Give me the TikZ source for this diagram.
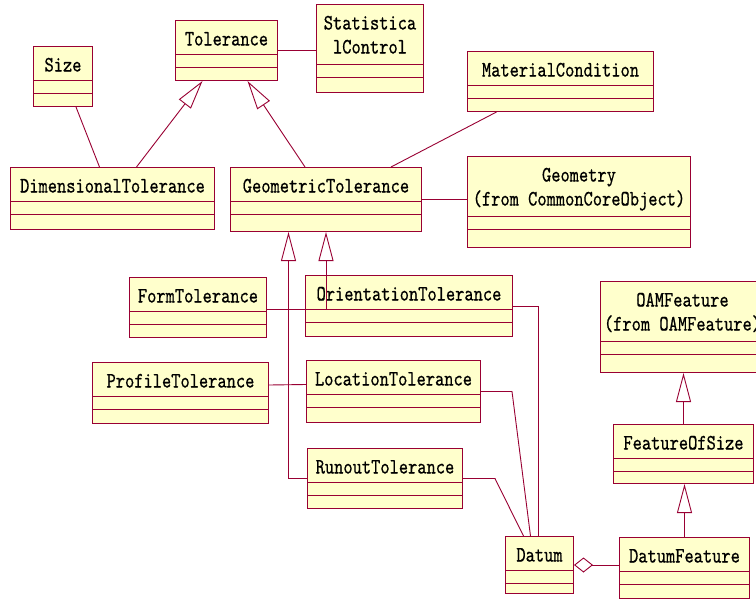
\documentclass[tikz,border=0pt]{standalone}
\usepackage{fontspec}
\usepackage{tikz}
\usetikzlibrary{arrows.meta}
\newfontfamily\umlfont{lmmono10-regular.otf}[FakeStretch=0.8, FakeBold=0.6]
\definecolor{roseline}{HTML}{990033}
\definecolor{rosefill}{HTML}{FFFFCC}
\newcommand{\twoline}[2]{\begin{tabular}[t]{@{}c@{}}#1\\#2\end{tabular}}

\begin{document}
\begin{tikzpicture}[
  x=1pt, y=-1pt,
  compsep/.store in=\clscompsep, compsep=34pt,
  umlclass/.style={draw=roseline, fill=rosefill, line width=1pt, anchor=north west,
                   inner sep=0pt, text height=25pt, align=center,
                   font=\umlfont\fontsize{22}{24}\selectfont,
                   path picture={
                     \draw[roseline, line width=1pt]
                       ([yshift=-\clscompsep]path picture bounding box.north west)
                         -- ([yshift=-\clscompsep]path picture bounding box.north east)
                       ([yshift=-\clscompsep-13pt]path picture bounding box.north west)
                         -- ([yshift=-\clscompsep-13pt]path picture bounding box.north east);}},
  twolines/.style={compsep=60pt},
  link/.style={draw=roseline, line width=0.9pt},
  gen/.style={link, -{Triangle[open, length=29pt, width=15pt, fill=white]}},
  agg/.style={link, {Diamond[open, length=19pt, width=15pt, fill=white]}-}
]
  \path[fill=white, use as bounding box] (0,0) rectangle (756,600);
  \clip (0,0) rectangle (756,600);

  % top row
  \node[umlclass, minimum width=59pt,  text depth=35pt] (size) at (33,46)  {Size};
  \node[umlclass, minimum width=102pt, text depth=35pt] (tol)  at (175,20) {Tolerance};
  \node[umlclass, twolines, minimum width=107pt, text depth=63pt] (stat) at (316,4)
    {\twoline{Statistica}{lControl}};
  \node[umlclass, minimum width=186pt, text depth=35pt] (mat)  at (467,51) {MaterialCondition};

  % second row
  \node[umlclass, minimum width=204pt, text depth=37pt] (dim)  at (10,167)  {DimensionalTolerance};
  \node[umlclass, minimum width=191pt, text depth=39pt] (geo)  at (230,167) {GeometricTolerance};
  \node[umlclass, twolines, minimum width=223pt, text depth=66pt] (gmy) at (467,156)
    {\twoline{Geometry}{(from CommonCoreObject)}};

  % geometric tolerance kinds
  \node[umlclass, minimum width=137pt, text depth=35pt] (form) at (129,277) {FormTolerance};
  \node[umlclass, minimum width=207pt, text depth=36pt] (ori)  at (305,275) {OrientationTolerance};
  \node[umlclass, minimum width=176pt, text depth=36pt] (prof) at (92,362)  {ProfileTolerance};
  \node[umlclass, minimum width=174pt, text depth=37pt] (loc)  at (306,360) {LocationTolerance};
  \node[umlclass, minimum width=155pt, text depth=35pt] (run)  at (307,448) {RunoutTolerance};

  % datum and features
  \node[umlclass, minimum width=68pt,  text depth=32pt] (dat)  at (505,536) {Datum};
  \node[umlclass, minimum width=130pt, text depth=36pt] (dfe)  at (619,537) {DatumFeature};
  \node[umlclass, minimum width=140pt, text depth=34pt] (fos)  at (613,424) {FeatureOfSize};
  \node[umlclass, twolines, minimum width=164pt, text depth=66pt] (oam) at (600,281)
    {\twoline{OAMFeature}{(from OAMFeature)}};

  % associations
  \draw[link] (tol.east) -- (tol.east -| stat.west);
  \draw[link] ([xshift=13pt]size.south) -- ([xshift=-13pt]dim.north);
  \draw[link] ([xshift=-64pt]mat.south) -- ([xshift=65pt]geo.north);
  \draw[link] (geo.east) -- (geo.east -| gmy.west);
  \draw[link] ([yshift=8pt]prof.east) -- ([yshift=7pt]loc.west);
  \draw[link] (ori.east) -| ([xshift=-1pt]dat.north);
  \draw[link] (loc.east) -- ([xshift=31pt]loc.east) -- ([xshift=-9pt]dat.north);
  \draw[link] (run.east) -- ([xshift=32pt]run.east) -- ([xshift=-16pt]dat.north);
  \draw[agg] (dat.east) -- (dat.east -| dfe.west);

  % generalizations
  \draw[gen] ([xshift=24pt]dim.north) -- ([xshift=-24pt]tol.south);
  \draw[gen] ([xshift=-21pt]geo.north) -- ([xshift=21pt]tol.south);
  \draw[gen] (run.west) -| ([xshift=-37.5pt]geo.south);
  \draw[gen] ([yshift=-2pt]form.east) -| (geo.south);
  \draw[gen] (fos.north) -- (fos.north |- oam.south);
  \draw[gen] (dfe.north) -- (dfe.north |- fos.south);
\end{tikzpicture}
\end{document}
